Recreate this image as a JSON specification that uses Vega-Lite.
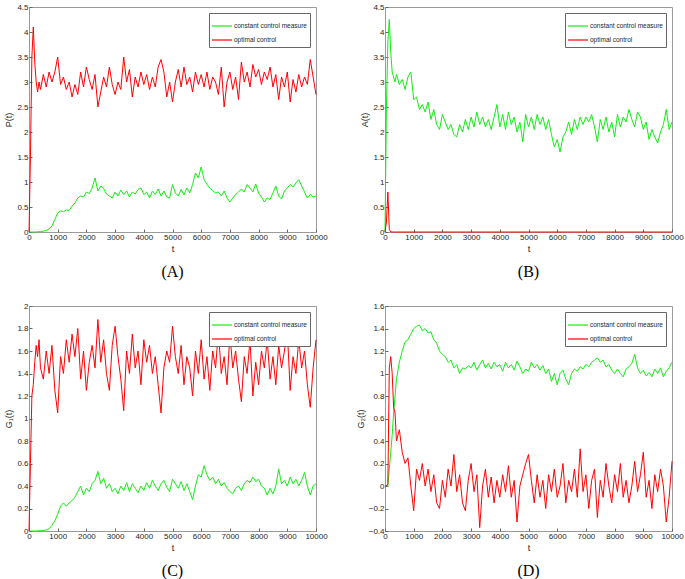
{
"$schema": "https://vega.github.io/schema/vega-lite/v6.json",
"padding": {"left": 4, "top": 2, "right": 0, "bottom": 0},
"background": "white",
"config": {
 "view": {"stroke": "#9a9a9a", "strokeWidth": 1},
 "axis": {"grid": false, "domain": false, "zindex": 1, "tickColor": "#666", "tickSize": -3, "labelOverlap": false, "labelFlush": false, "labelFont": "Liberation Sans", "labelFontSize": 8, "labelColor": "#262626", "labelPadding": 4, "titleFont": "Liberation Sans", "titleFontSize": 9, "titleFontWeight": "normal", "titleColor": "#262626", "titlePadding": 3},
 "legend": {"orient": "top-right", "offset": 6, "padding": 3, "strokeColor": "#666", "fillColor": "white", "symbolType": "M-1,-0.06H1V0.06H-1Z", "symbolSize": 400, "symbolStrokeWidth": 0, "labelFont": "Liberation Sans", "labelFontSize": 6.5, "labelColor": "#262626", "rowPadding": -11, "labelOffset": 2},
 "title": {"font": "Liberation Serif", "fontSize": 16, "fontWeight": "normal", "color": "black"}
},
"datasets": {"d": [
{"t":0,"pg":0,"pr":0,"ag":0,"ar":0,"gg":0,"gr":0,"hg":0,"hr":0},
{"t":50,"pg":0,"pr":1.5,"ag":2.5,"ar":0.2,"gg":0,"gr":0.6,"hg":0,"hr":0},
{"t":100,"pg":0,"pr":3.5,"ag":3.8,"ar":0.8,"gg":0,"gr":1.2,"hg":0,"hr":0.02},
{"t":150,"pg":0,"pr":4.1,"ag":4.25,"ar":0.05,"gg":0,"gr":1.3,"hg":0.15,"hr":1.05},
{"t":200,"pg":0,"pr":3.4,"ag":3.6,"ar":0,"gg":0,"gr":1.5,"hg":0.3,"hr":1.15},
{"t":250,"pg":0,"pr":3.0,"ag":3.2,"ar":0,"gg":0,"gr":1.65,"hg":0.45,"hr":1.0},
{"t":300,"pg":0.005,"pr":2.8,"ag":3.1,"ar":0,"gg":0.002,"gr":1.55,"hg":0.65,"hr":0.7},
{"t":350,"pg":0.005,"pr":3.0,"ag":3.0,"ar":0,"gg":0.002,"gr":1.7,"hg":0.8,"hr":0.65},
{"t":400,"pg":0.01,"pr":2.85,"ag":3.15,"ar":0,"gg":0.003,"gr":1.45,"hg":0.95,"hr":0.4},
{"t":500,"pg":0.015,"pr":3.15,"ag":2.95,"ar":0,"gg":0.005,"gr":1.35,"hg":1.1,"hr":0.5},
{"t":600,"pg":0.03,"pr":2.9,"ag":3.05,"ar":0,"gg":0.01,"gr":1.6,"hg":1.2,"hr":0.3},
{"t":700,"pg":0.06,"pr":3.2,"ag":2.85,"ar":0,"gg":0.02,"gr":1.4,"hg":1.28,"hr":0.2},
{"t":800,"pg":0.12,"pr":3.0,"ag":3.1,"ar":0,"gg":0.05,"gr":1.65,"hg":1.3,"hr":0.25},
{"t":900,"pg":0.25,"pr":3.2,"ag":3.2,"ar":0,"gg":0.09,"gr":1.25,"hg":1.35,"hr":0},
{"t":1000,"pg":0.38,"pr":3.5,"ag":2.65,"ar":0,"gg":0.15,"gr":1.05,"hg":1.4,"hr":-0.22},
{"t":1100,"pg":0.42,"pr":2.95,"ag":2.7,"ar":0,"gg":0.22,"gr":1.55,"hg":1.42,"hr":0.15},
{"t":1200,"pg":0.41,"pr":3.1,"ag":2.45,"ar":0,"gg":0.25,"gr":1.4,"hg":1.43,"hr":0.05},
{"t":1300,"pg":0.44,"pr":2.85,"ag":2.55,"ar":0,"gg":0.22,"gr":1.7,"hg":1.38,"hr":0.2},
{"t":1400,"pg":0.43,"pr":3.0,"ag":2.4,"ar":0,"gg":0.25,"gr":1.5,"hg":1.4,"hr":0},
{"t":1500,"pg":0.52,"pr":2.7,"ag":2.6,"ar":0,"gg":0.27,"gr":1.75,"hg":1.36,"hr":0.15},
{"t":1600,"pg":0.58,"pr":2.95,"ag":2.25,"ar":0,"gg":0.3,"gr":1.55,"hg":1.37,"hr":-0.05},
{"t":1700,"pg":0.68,"pr":2.75,"ag":2.45,"ar":0,"gg":0.35,"gr":1.8,"hg":1.3,"hr":0.1},
{"t":1800,"pg":0.72,"pr":3.2,"ag":2.15,"ar":0,"gg":0.4,"gr":1.35,"hg":1.27,"hr":-0.15},
{"t":1900,"pg":0.7,"pr":2.9,"ag":2.05,"ar":0,"gg":0.32,"gr":1.6,"hg":1.2,"hr":-0.2},
{"t":2000,"pg":0.8,"pr":3.3,"ag":2.35,"ar":0,"gg":0.38,"gr":1.25,"hg":1.17,"hr":0.05},
{"t":2100,"pg":0.77,"pr":3.05,"ag":2.2,"ar":0,"gg":0.35,"gr":1.5,"hg":1.15,"hr":-0.1},
{"t":2200,"pg":0.88,"pr":2.85,"ag":2.05,"ar":0,"gg":0.42,"gr":1.65,"hg":1.1,"hr":0.15},
{"t":2300,"pg":1.08,"pr":3.15,"ag":2.15,"ar":0,"gg":0.45,"gr":1.45,"hg":1.12,"hr":0},
{"t":2400,"pg":0.82,"pr":2.5,"ag":1.95,"ar":0,"gg":0.53,"gr":1.88,"hg":1.05,"hr":0.28},
{"t":2500,"pg":0.92,"pr":2.8,"ag":1.9,"ar":0,"gg":0.42,"gr":1.5,"hg":1.08,"hr":-0.05},
{"t":2600,"pg":0.87,"pr":3.1,"ag":2.15,"ar":0,"gg":0.47,"gr":1.7,"hg":1.0,"hr":0.1},
{"t":2700,"pg":0.76,"pr":2.9,"ag":2.0,"ar":0,"gg":0.38,"gr":1.4,"hg":1.05,"hr":-0.15},
{"t":2800,"pg":0.72,"pr":3.3,"ag":2.25,"ar":0,"gg":0.42,"gr":1.25,"hg":1.04,"hr":-0.22},
{"t":2900,"pg":0.68,"pr":2.95,"ag":2.05,"ar":0,"gg":0.35,"gr":1.65,"hg":1.07,"hr":0.05},
{"t":3000,"pg":0.8,"pr":2.75,"ag":2.3,"ar":0,"gg":0.38,"gr":1.82,"hg":1.05,"hr":0.2},
{"t":3100,"pg":0.72,"pr":3.0,"ag":2.1,"ar":0,"gg":0.33,"gr":1.55,"hg":1.1,"hr":-0.05},
{"t":3200,"pg":0.84,"pr":2.85,"ag":2.4,"ar":0,"gg":0.4,"gr":1.35,"hg":1.03,"hr":0.1},
{"t":3300,"pg":0.75,"pr":3.5,"ag":2.15,"ar":0,"gg":0.36,"gr":1.07,"hg":1.08,"hr":-0.37},
{"t":3400,"pg":0.82,"pr":3.0,"ag":2.3,"ar":0,"gg":0.43,"gr":1.6,"hg":1.12,"hr":0},
{"t":3500,"pg":0.7,"pr":3.25,"ag":2.1,"ar":0,"gg":0.35,"gr":1.4,"hg":1.05,"hr":0.15},
{"t":3600,"pg":0.8,"pr":2.7,"ag":2.25,"ar":0,"gg":0.42,"gr":1.75,"hg":1.09,"hr":-0.1},
{"t":3700,"pg":0.76,"pr":3.1,"ag":2.05,"ar":0,"gg":0.38,"gr":1.45,"hg":1.04,"hr":0.08},
{"t":3800,"pg":0.85,"pr":2.9,"ag":2.3,"ar":0,"gg":0.34,"gr":1.6,"hg":1.1,"hr":-0.15},
{"t":3900,"pg":0.88,"pr":3.2,"ag":2.55,"ar":0,"gg":0.4,"gr":1.3,"hg":1.06,"hr":0.05},
{"t":4000,"pg":0.75,"pr":2.95,"ag":2.1,"ar":0,"gg":0.36,"gr":1.7,"hg":1.08,"hr":-0.1},
{"t":4100,"pg":0.8,"pr":3.15,"ag":2.35,"ar":0,"gg":0.43,"gr":1.5,"hg":1.02,"hr":0.1},
{"t":4200,"pg":0.68,"pr":2.85,"ag":2.05,"ar":0,"gg":0.38,"gr":1.65,"hg":1.1,"hr":-0.05},
{"t":4300,"pg":0.82,"pr":3.1,"ag":2.4,"ar":0,"gg":0.45,"gr":1.4,"hg":1.05,"hr":0.18},
{"t":4400,"pg":0.75,"pr":2.9,"ag":2.15,"ar":0,"gg":0.4,"gr":1.55,"hg":1.08,"hr":-0.1},
{"t":4500,"pg":0.86,"pr":3.3,"ag":2.3,"ar":0,"gg":0.36,"gr":1.3,"hg":1.03,"hr":0.05},
{"t":4600,"pg":0.72,"pr":3.45,"ag":2.0,"ar":0,"gg":0.42,"gr":1.05,"hg":1.11,"hr":-0.32},
{"t":4700,"pg":0.82,"pr":3.2,"ag":2.2,"ar":0,"gg":0.45,"gr":1.45,"hg":1.06,"hr":0},
{"t":4800,"pg":0.7,"pr":2.7,"ag":1.8,"ar":0,"gg":0.39,"gr":1.6,"hg":1.0,"hr":0.1},
{"t":4900,"pg":0.68,"pr":3.0,"ag":2.35,"ar":0,"gg":0.35,"gr":1.5,"hg":1.04,"hr":0.2},
{"t":5000,"pg":0.95,"pr":2.6,"ag":2.1,"ar":0,"gg":0.46,"gr":1.82,"hg":1.02,"hr":0.28},
{"t":5100,"pg":0.78,"pr":3.0,"ag":2.3,"ar":0,"gg":0.42,"gr":1.55,"hg":1.1,"hr":0.05},
{"t":5200,"pg":0.72,"pr":3.25,"ag":2.05,"ar":0,"gg":0.38,"gr":1.4,"hg":1.05,"hr":-0.15},
{"t":5300,"pg":0.85,"pr":2.9,"ag":2.35,"ar":0,"gg":0.44,"gr":1.65,"hg":1.08,"hr":0.1},
{"t":5400,"pg":0.74,"pr":3.3,"ag":2.15,"ar":0,"gg":0.36,"gr":1.3,"hg":1.03,"hr":-0.1},
{"t":5500,"pg":0.88,"pr":2.95,"ag":2.3,"ar":0,"gg":0.42,"gr":1.55,"hg":1.07,"hr":0.05},
{"t":5600,"pg":0.78,"pr":3.1,"ag":2.05,"ar":0,"gg":0.35,"gr":1.45,"hg":1.0,"hr":-0.2},
{"t":5700,"pg":0.95,"pr":2.8,"ag":2.25,"ar":0,"gg":0.28,"gr":1.2,"hg":1.04,"hr":0.1},
{"t":5800,"pg":1.18,"pr":3.2,"ag":1.95,"ar":0,"gg":0.4,"gr":1.6,"hg":0.93,"hr":-0.05},
{"t":5900,"pg":1.08,"pr":2.95,"ag":1.7,"ar":0,"gg":0.5,"gr":1.4,"hg":1.0,"hr":0.15},
{"t":6000,"pg":1.3,"pr":3.15,"ag":1.85,"ar":0,"gg":0.48,"gr":1.7,"hg":0.9,"hr":-0.1},
{"t":6100,"pg":1.05,"pr":2.9,"ag":1.6,"ar":0,"gg":0.58,"gr":1.35,"hg":1.0,"hr":0},
{"t":6200,"pg":0.95,"pr":3.2,"ag":1.9,"ar":0,"gg":0.5,"gr":1.55,"hg":1.03,"hr":0.2},
{"t":6300,"pg":0.88,"pr":2.85,"ag":2.0,"ar":0,"gg":0.45,"gr":1.25,"hg":0.95,"hr":-0.15},
{"t":6400,"pg":0.82,"pr":3.1,"ag":2.2,"ar":0,"gg":0.48,"gr":1.6,"hg":0.9,"hr":0.05},
{"t":6500,"pg":0.78,"pr":3.0,"ag":1.95,"ar":0,"gg":0.42,"gr":1.45,"hg":1.0,"hr":-0.05},
{"t":6600,"pg":0.8,"pr":2.75,"ag":2.25,"ar":0,"gg":0.46,"gr":1.78,"hg":1.04,"hr":0.15},
{"t":6700,"pg":0.72,"pr":3.3,"ag":2.05,"ar":0,"gg":0.4,"gr":1.4,"hg":1.02,"hr":-0.1},
{"t":6800,"pg":0.82,"pr":2.5,"ag":2.3,"ar":0,"gg":0.43,"gr":1.55,"hg":1.06,"hr":0.33},
{"t":6900,"pg":0.68,"pr":3.0,"ag":2.15,"ar":0,"gg":0.38,"gr":1.3,"hg":1.04,"hr":-0.05},
{"t":7000,"pg":0.6,"pr":3.2,"ag":2.3,"ar":0,"gg":0.35,"gr":1.75,"hg":1.08,"hr":0.1},
{"t":7100,"pg":0.68,"pr":2.85,"ag":2.2,"ar":0,"gg":0.33,"gr":1.45,"hg":1.06,"hr":-0.2},
{"t":7200,"pg":0.75,"pr":3.1,"ag":2.35,"ar":0,"gg":0.38,"gr":1.6,"hg":1.1,"hr":0.05},
{"t":7300,"pg":0.8,"pr":2.65,"ag":2.1,"ar":0,"gg":0.4,"gr":1.35,"hg":1.12,"hr":0.15},
{"t":7400,"pg":0.86,"pr":3.4,"ag":1.8,"ar":0,"gg":0.36,"gr":1.15,"hg":1.14,"hr":-0.28},
{"t":7500,"pg":0.8,"pr":3.0,"ag":2.25,"ar":0,"gg":0.42,"gr":1.55,"hg":1.1,"hr":0.05},
{"t":7600,"pg":0.95,"pr":3.2,"ag":2.05,"ar":0,"gg":0.45,"gr":1.4,"hg":1.12,"hr":-0.1},
{"t":7700,"pg":0.88,"pr":2.9,"ag":2.3,"ar":0,"gg":0.43,"gr":1.7,"hg":1.06,"hr":0.2},
{"t":7800,"pg":0.8,"pr":3.35,"ag":2.0,"ar":0,"gg":0.48,"gr":1.2,"hg":1.08,"hr":0},
{"t":7900,"pg":0.96,"pr":3.1,"ag":2.2,"ar":0,"gg":0.44,"gr":1.5,"hg":1.03,"hr":-0.15},
{"t":8000,"pg":0.78,"pr":3.25,"ag":1.9,"ar":0,"gg":0.46,"gr":1.3,"hg":1.0,"hr":0.1},
{"t":8100,"pg":0.7,"pr":2.95,"ag":2.35,"ar":0,"gg":0.4,"gr":1.6,"hg":1.04,"hr":-0.05},
{"t":8200,"pg":0.6,"pr":3.2,"ag":2.1,"ar":0,"gg":0.38,"gr":1.45,"hg":1.0,"hr":0.2},
{"t":8300,"pg":0.68,"pr":3.05,"ag":2.3,"ar":0,"gg":0.32,"gr":1.7,"hg":0.97,"hr":-0.1},
{"t":8400,"pg":0.65,"pr":3.3,"ag":2.2,"ar":0,"gg":0.38,"gr":1.35,"hg":1.04,"hr":0.05},
{"t":8500,"pg":0.78,"pr":2.9,"ag":2.45,"ar":0,"gg":0.33,"gr":1.55,"hg":1.06,"hr":-0.15},
{"t":8600,"pg":0.92,"pr":3.15,"ag":2.25,"ar":0,"gg":0.4,"gr":1.3,"hg":1.09,"hr":0},
{"t":8700,"pg":0.72,"pr":2.65,"ag":2.1,"ar":0,"gg":0.55,"gr":1.65,"hg":1.17,"hr":0.22},
{"t":8800,"pg":0.66,"pr":3.1,"ag":2.4,"ar":0,"gg":0.42,"gr":1.45,"hg":1.05,"hr":-0.05},
{"t":8900,"pg":0.82,"pr":2.9,"ag":2.3,"ar":0,"gg":0.45,"gr":1.6,"hg":1.0,"hr":0.1},
{"t":9000,"pg":0.88,"pr":3.2,"ag":2.05,"ar":0,"gg":0.4,"gr":1.78,"hg":1.03,"hr":0.3},
{"t":9100,"pg":0.95,"pr":2.6,"ag":2.2,"ar":0,"gg":0.48,"gr":1.25,"hg":0.98,"hr":-0.1},
{"t":9200,"pg":0.9,"pr":3.05,"ag":1.85,"ar":0,"gg":0.42,"gr":1.55,"hg":1.01,"hr":0.05},
{"t":9300,"pg":0.98,"pr":2.8,"ag":2.05,"ar":0,"gg":0.46,"gr":1.4,"hg":0.97,"hr":-0.2},
{"t":9400,"pg":1.05,"pr":3.15,"ag":1.9,"ar":0,"gg":0.4,"gr":1.7,"hg":1.04,"hr":0.1},
{"t":9500,"pg":0.92,"pr":2.9,"ag":1.78,"ar":0,"gg":0.45,"gr":1.45,"hg":1.0,"hr":-0.05},
{"t":9600,"pg":0.8,"pr":3.1,"ag":2.0,"ar":0,"gg":0.52,"gr":1.6,"hg":1.05,"hr":0.15},
{"t":9700,"pg":0.68,"pr":2.95,"ag":2.15,"ar":0,"gg":0.4,"gr":1.3,"hg":0.97,"hr":0},
{"t":9800,"pg":0.75,"pr":3.45,"ag":2.45,"ar":0,"gg":0.32,"gr":1.1,"hg":1.02,"hr":-0.32},
{"t":9900,"pg":0.7,"pr":3.1,"ag":2.05,"ar":0,"gg":0.4,"gr":1.45,"hg":1.05,"hr":-0.1},
{"t":10000,"pg":0.72,"pr":2.75,"ag":2.2,"ar":0,"gg":0.42,"gr":1.7,"hg":1.1,"hr":0.22}
]},
"resolve": {"scale": {"color": "independent"}, "legend": {"color": "independent"}},
"bounds": "flush",
"columns": 2,
"spacing": {"row": 74, "column": 69},
"concat": [
  {"width": 287, "height": 225, "data": {"name": "d"},
   "transform": [{"fold": ["pg", "pr"], "as": ["s", "v"]}],
   "title": {"text": "(A)", "orient": "bottom", "offset": 11},
   "mark": {"type": "line", "strokeWidth": 1},
   "encoding": {
    "x": {"field": "t", "type": "quantitative", "scale": {"domain": [0, 10000], "nice": false}, "axis": {"title": "t", "values": [0,1000,2000,3000,4000,5000,6000,7000,8000,9000,10000], "format": "d"}},
    "y": {"field": "v", "type": "quantitative", "title": "P(t)", "scale": {"domain": [0, 4.5], "nice": false}, "axis": {"values": [0,0.5,1,1.5,2,2.5,3,3.5,4,4.5], "format": "~g"}},
    "color": {"field": "s", "type": "nominal", "scale": {"domain": ["pg", "pr"], "range": ["#11ee11", "#ff0000"]}, "legend": {"title": null, "labelExpr": "datum.value == 'pg' ? 'constant control measure' : 'optimal control'", "encode": {"symbols": {"update": {"fill": {"signal": "datum.value == 'pg' ? '#11ee11' : '#ff0000'"}, "stroke": {"value": "transparent"}}}}}}
   }},
  {"width": 287, "height": 225, "data": {"name": "d"},
   "transform": [{"fold": ["ag", "ar"], "as": ["s", "v"]}],
   "title": {"text": "(B)", "orient": "bottom", "offset": 11},
   "mark": {"type": "line", "strokeWidth": 1},
   "encoding": {
    "x": {"field": "t", "type": "quantitative", "scale": {"domain": [0, 10000], "nice": false}, "axis": {"title": "t", "values": [0,1000,2000,3000,4000,5000,6000,7000,8000,9000,10000], "format": "d"}},
    "y": {"field": "v", "type": "quantitative", "title": "A(t)", "scale": {"domain": [0, 4.5], "nice": false}, "axis": {"values": [0,0.5,1,1.5,2,2.5,3,3.5,4,4.5], "format": "~g"}},
    "color": {"field": "s", "type": "nominal", "scale": {"domain": ["ag", "ar"], "range": ["#11ee11", "#ff0000"]}, "legend": {"title": null, "labelExpr": "datum.value == 'ag' ? 'constant control measure' : 'optimal control'", "encode": {"symbols": {"update": {"fill": {"signal": "datum.value == 'ag' ? '#11ee11' : '#ff0000'"}, "stroke": {"value": "transparent"}}}}}}
   }},
  {"width": 287, "height": 225, "data": {"name": "d"},
   "transform": [{"fold": ["gg", "gr"], "as": ["s", "v"]}],
   "title": {"text": "(C)", "orient": "bottom", "offset": 11},
   "mark": {"type": "line", "strokeWidth": 1},
   "encoding": {
    "x": {"field": "t", "type": "quantitative", "scale": {"domain": [0, 10000], "nice": false}, "axis": {"title": "t", "values": [0,1000,2000,3000,4000,5000,6000,7000,8000,9000,10000], "format": "d"}},
    "y": {"field": "v", "type": "quantitative", "title": "G₁(t)", "scale": {"domain": [0, 2], "nice": false}, "axis": {"values": [0,0.2,0.4,0.6,0.8,1,1.2,1.4,1.6,1.8,2], "format": "~g"}},
    "color": {"field": "s", "type": "nominal", "scale": {"domain": ["gg", "gr"], "range": ["#11ee11", "#ff0000"]}, "legend": {"title": null, "labelExpr": "datum.value == 'gg' ? 'constant control measure' : 'optimal control'", "encode": {"symbols": {"update": {"fill": {"signal": "datum.value == 'gg' ? '#11ee11' : '#ff0000'"}, "stroke": {"value": "transparent"}}}}}}
   }},
  {"width": 287, "height": 225, "data": {"name": "d"},
   "transform": [{"fold": ["hg", "hr"], "as": ["s", "v"]}],
   "title": {"text": "(D)", "orient": "bottom", "offset": 11},
   "mark": {"type": "line", "strokeWidth": 1},
   "encoding": {
    "x": {"field": "t", "type": "quantitative", "scale": {"domain": [0, 10000], "nice": false}, "axis": {"title": "t", "values": [0,1000,2000,3000,4000,5000,6000,7000,8000,9000,10000], "format": "d"}},
    "y": {"field": "v", "type": "quantitative", "title": "G₂(t)", "scale": {"domain": [-0.4, 1.6], "nice": false}, "axis": {"values": [-0.4,-0.2,0,0.2,0.4,0.6,0.8,1,1.2,1.4,1.6], "format": "~g"}},
    "color": {"field": "s", "type": "nominal", "scale": {"domain": ["hg", "hr"], "range": ["#11ee11", "#ff0000"]}, "legend": {"title": null, "labelExpr": "datum.value == 'hg' ? 'constant control measure' : 'optimal control'", "encode": {"symbols": {"update": {"fill": {"signal": "datum.value == 'hg' ? '#11ee11' : '#ff0000'"}, "stroke": {"value": "transparent"}}}}}}
   }}
]
}
